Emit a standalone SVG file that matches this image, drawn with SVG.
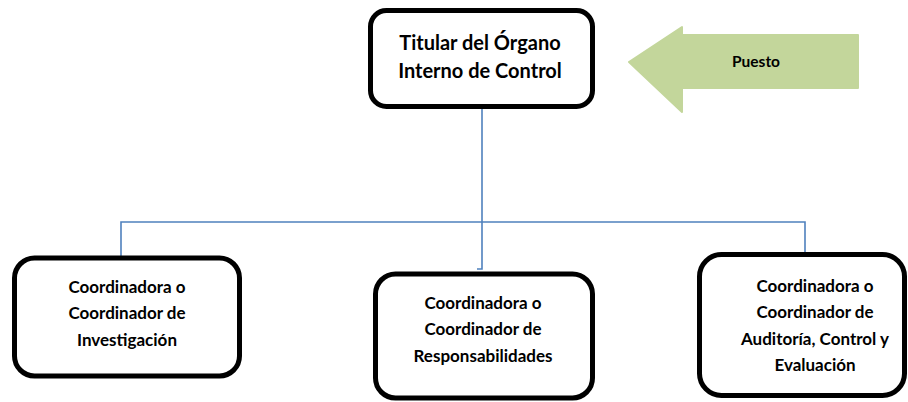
<svg xmlns="http://www.w3.org/2000/svg" width="908" height="402" viewBox="0 0 908 402">
<style>
.box{fill:#fff;stroke:#000;stroke-width:5}
.t{font-family:Lato,"Open Sans","Liberation Sans",sans-serif;font-weight:bold;fill:#000;text-anchor:middle}
.c{fill:none;stroke:#4f81bd;stroke-width:1.6}
</style>
<rect width="908" height="402" fill="#fff"/>
<g id="connectors">
<path class="c" d="M482 108V222" stroke-width="2.4"/>
<path class="c" d="M121 262V222H805V259H801"/>
<path class="c" d="M482 222V269H477"/>
</g>
<g id="puesto">
<path d="M629 62L682 27V35H858V88H682V112Z" fill="#c3d69b" stroke="#c3d69b" stroke-width="2" stroke-linejoin="round"/>
<text class="t" x="756" y="67" font-size="15.5">Puesto</text>
</g>
<g id="titular">
<rect class="box" x="370.5" y="10.5" width="222" height="96" rx="16"/>
<text class="t" x="480" y="50" font-size="20">Titular del Órgano</text>
<text class="t" x="480" y="78" font-size="20">Interno de Control</text>
</g>
<g id="investigacion">
<rect class="box" x="14.5" y="258" width="225" height="118" rx="20"/>
<text class="t" x="127" y="293" font-size="17">Coordinadora o</text>
<text class="t" x="127" y="319" font-size="17">Coordinador de</text>
<text class="t" x="127" y="346" font-size="17">Investigación</text>
</g>
<g id="responsabilidades">
<rect class="box" x="375.5" y="274" width="217" height="124" rx="20"/>
<text class="t" x="483" y="309" font-size="17">Coordinadora o</text>
<text class="t" x="483" y="335" font-size="17">Coordinador de</text>
<text class="t" x="483" y="362" font-size="17">Responsabilidades</text>
</g>
<g id="auditoria">
<rect class="box" x="699.5" y="254.5" width="205" height="141" rx="22"/>
<text class="t" x="815" y="292" font-size="17">Coordinadora o</text>
<text class="t" x="815" y="318" font-size="17">Coordinador de</text>
<text class="t" x="815" y="345" font-size="17">Auditoría, Control y</text>
<text class="t" x="815" y="371" font-size="17">Evaluación</text>
</g>
</svg>
